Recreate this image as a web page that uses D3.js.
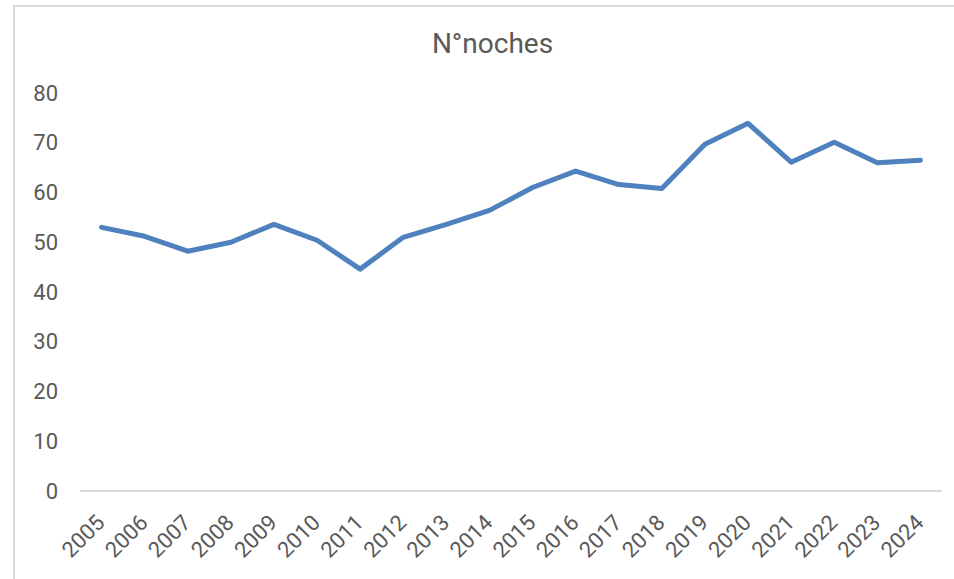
<!DOCTYPE html>
<html>
<head>
<meta charset="utf-8">
<script src="https://cdn.jsdelivr.net/npm/d3@7"></script>
<style>
  html, body { margin: 0; padding: 0; background: #fff; }
  svg { display: block; font-family: Roboto, "Noto Sans", sans-serif; }
</style>
</head>
<body>
<svg id="chart" width="954" height="579"></svg>
<script>
const title = "N°noches";
const years = ["2005","2006","2007","2008","2009","2010","2011","2012","2013","2014",
               "2015","2016","2017","2018","2019","2020","2021","2022","2023","2024"];
const noches = [53.0, 51.2, 48.2, 50.0, 53.6, 50.4, 44.6, 51.0, 53.6, 56.4,
                61.0, 64.3, 61.6, 60.8, 69.7, 73.9, 66.1, 70.1, 66.0, 66.5];
const yTicks = [0, 10, 20, 30, 40, 50, 60, 70, 80];

(function () {
const svg = d3.select("#chart");
const W = 954, H = 579;

// outer chart border
svg.append("rect")
  .attr("x", 14).attr("y", 6)
  .attr("width", W + 20).attr("height", H + 20)
  .attr("fill", "#fff").attr("stroke", "#d9d9d9").attr("stroke-width", 2);

const mLeft = 80, mRight = 942, mTop = 93, mBottom = 491;

const x = d3.scalePoint().domain(years).range([mLeft, mRight]).padding(0.5);
const y = d3.scaleLinear().domain([0, 80]).range([mBottom, mTop]);

// title
svg.append("text")
  .attr("x", 492.5).attr("y", 52.5)
  .attr("text-anchor", "middle")
  .attr("font-size", 28)
  .attr("fill", "#595959")
  .text(title);

// y axis labels
const yAxis = d3.axisLeft(y).tickValues(yTicks).tickSize(0).tickPadding(0);
const gy = svg.append("g").attr("transform", `translate(58,0)`).call(yAxis);
gy.select(".domain").remove();
gy.selectAll("text").attr("font-size", 22).attr("fill", "#595959")
  .attr("font-family", "Roboto, sans-serif");

// x axis
const xAxis = d3.axisBottom(x).tickSize(0).tickPadding(0);
const gx = svg.append("g").attr("transform", `translate(0,${mBottom})`).call(xAxis);
gx.select(".domain").attr("stroke", "#d9d9d9").attr("stroke-width", 2)
  .attr("d", `M${mLeft},0H${mRight}`);
gx.selectAll("text")
  .attr("font-size", 22).attr("fill", "#595959")
  .attr("font-family", "Roboto, sans-serif")
  .attr("text-anchor", "end")
  .attr("dy", "0")
  .attr("transform", "translate(4,33) rotate(-45)");

// line
const line = d3.line()
  .x((d, i) => x(years[i]))
  .y(d => y(d));

svg.append("path")
  .datum(noches)
  .attr("d", line)
  .attr("fill", "none")
  .attr("stroke", "#4e81bd")
  .attr("stroke-width", 5)
  .attr("stroke-linejoin", "round")
  .attr("stroke-linecap", "round");
})();
</script>
</body>
</html>
